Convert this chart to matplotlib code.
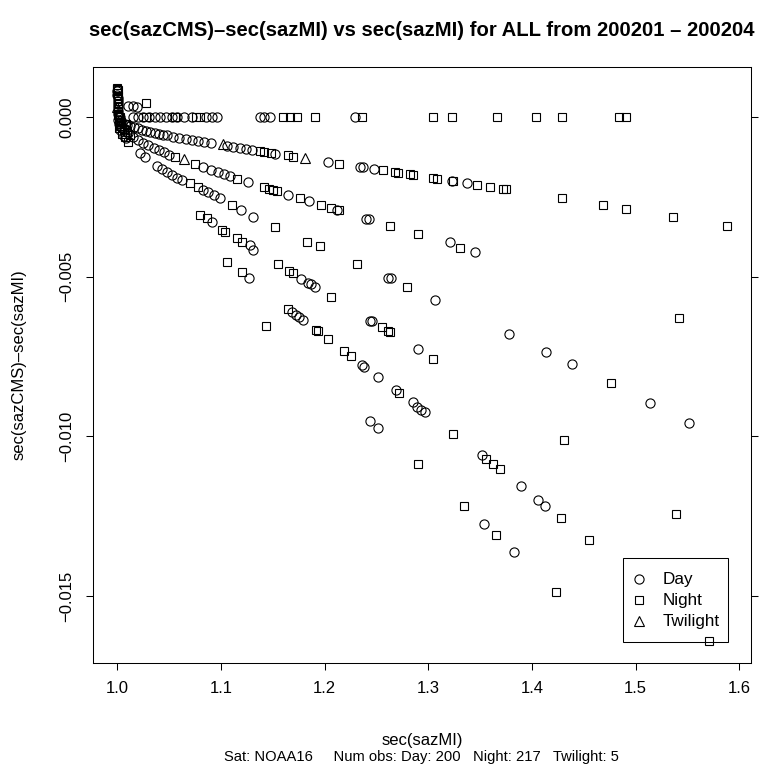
import matplotlib
matplotlib.use("Agg")
import matplotlib.pyplot as plt
from matplotlib.lines import Line2D
from matplotlib.patches import Rectangle

plt.rcParams['font.family'] = ['Liberation Sans', 'DejaVu Sans']

# ---------------- data ----------------
day_x = [
    1.0000, 1.0002, 1.0003, 1.0004, 1.0005, 1.0006, 1.0008, 1.0010, 1.0012, 1.0020, 1.0030,
    1.010, 1.015, 1.019,
    1.015, 1.020, 1.025, 1.031, 1.036, 1.041, 1.047, 1.053, 1.058, 1.064, 1.072, 1.086, 1.091, 1.096,
    1.138, 1.142, 1.147, 1.229,
    1.001, 1.003, 1.005, 1.007, 1.009,
    1.012, 1.016, 1.020, 1.024, 1.028, 1.032, 1.036, 1.040, 1.044, 1.048, 1.054, 1.060, 1.066, 1.072,
    1.078, 1.084, 1.090, 1.106, 1.112, 1.118, 1.124, 1.130, 1.152, 1.203, 1.234, 1.237, 1.248, 1.323, 1.337,
    1.002, 1.004, 1.005, 1.007, 1.010, 1.015, 1.020, 1.025, 1.030, 1.035, 1.040, 1.045, 1.050,
    1.083, 1.090, 1.097, 1.103, 1.109, 1.126, 1.165, 1.185, 1.212, 1.240, 1.243, 1.321, 1.345,
    1.003, 1.006, 1.008,
    1.022, 1.027, 1.038, 1.043, 1.048, 1.053, 1.058, 1.062, 1.083, 1.088, 1.093, 1.099, 1.119, 1.131,
    1.2607, 1.2637, 1.3064, 1.378, 1.4134, 1.4388, 1.5144, 1.5516,
    1.091, 1.128, 1.1311, 1.1771, 1.184, 1.187, 1.191, 1.2437, 1.2457, 1.2897,
    1.1273, 1.169, 1.172, 1.175, 1.179, 1.2362, 1.2382, 1.2517, 1.2688, 1.2849, 1.2887, 1.293, 1.297,
    1.3514, 1.3893, 1.406, 1.4131,
    1.2437, 1.2517, 1.3536, 1.3825,
]
day_y = [
    0.00080, 0.00070, 0.00060, 0.00050, 0.00040, 0.00030, 0.00020, 0.00010, 0.0, 0.0, 0.0,
    0.00034, 0.00035, 0.00032,
    0.0, 0.0, 0.0, 0.0, 0.0, 0.0, 0.0, 0.0, 0.0, 0.0, 0.0, 0.0, 0.0, 0.0,
    0.0, 0.0, 0.0, 0.0,
    -0.00008, -0.00014, -0.00018, -0.00021, -0.00024,
    -0.000275, -0.00032, -0.00036, -0.000395, -0.00043, -0.00046, -0.00049, -0.00052, -0.00055, -0.000575,
    -0.000614, -0.00065, -0.00069, -0.000725, -0.00076, -0.00079, -0.00083, -0.00091, -0.00095, -0.00098,
    -0.00101, -0.00104, -0.00116, -0.00141, -0.00156, -0.00158, -0.00163, -0.00200, -0.00208,
    -0.00022, -0.00031, -0.00035, -0.00042, -0.00050, -0.00062, -0.00072, -0.00081, -0.00089, -0.00097,
    -0.00104, -0.00111, -0.00118,
    -0.00158, -0.00165, -0.00173, -0.00180, -0.00186, -0.00204, -0.00244, -0.00264, -0.00290, -0.00318,
    -0.00320, -0.00390, -0.00423,
    -0.00041, -0.00058, -0.00067,
    -0.00113, -0.00124, -0.00152, -0.00162, -0.00173, -0.00182, -0.00190, -0.00198, -0.00229, -0.00236,
    -0.00245, -0.00254, -0.00290, -0.00312,
    -0.00503, -0.00505, -0.00573, -0.00679, -0.00735, -0.00774, -0.00896, -0.00957,
    -0.00328, -0.00401, -0.00416, -0.00507, -0.00519, -0.00524, -0.00532, -0.00638, -0.00640, -0.00727,
    -0.00505, -0.00610, -0.00620, -0.00626, -0.00636, -0.00778, -0.00782, -0.00813, -0.00855, -0.00894,
    -0.00907, -0.00917, -0.00925, -0.01058, -0.01157, -0.01199, -0.01218,
    -0.00951, -0.00975, -0.01275, -0.01363,
]

night_x = [
    1.0000, 1.0000, 1.0003, 1.0002, 1.0005, 1.0007, 1.0003, 1.0008, 1.0004, 1.0010, 1.0006, 1.0015, 1.0025,
    1.0277,
    1.028, 1.056, 1.076, 1.080, 1.160, 1.167, 1.173, 1.191, 1.236, 1.305, 1.323, 1.366, 1.404, 1.429,
    1.484, 1.491,
    1.002, 1.004, 1.008,
    1.138, 1.142, 1.148, 1.165, 1.170, 1.214, 1.256, 1.268, 1.271, 1.282, 1.285, 1.305, 1.308, 1.324,
    1.347, 1.360, 1.372, 1.375, 1.429, 1.469, 1.491, 1.536, 1.588,
    1.003, 1.006, 1.009, 1.012,
    1.056, 1.075, 1.1155, 1.142, 1.146, 1.150, 1.154, 1.176, 1.1965, 1.206, 1.214, 1.263, 1.290, 1.3305,
    1.5419,
    1.002, 1.005, 1.007,
    1.0107, 1.070, 1.078, 1.111, 1.152, 1.1826, 1.196, 1.2309, 1.2791, 1.4761,
    1.080, 1.0862, 1.1007, 1.1039, 1.1151, 1.120, 1.1547, 1.1656, 1.1695, 1.2058, 1.255, 1.2613, 1.2633,
    1.3047, 1.4308, 1.5388,
    1.1055, 1.120, 1.1649, 1.1913, 1.1933, 1.2029, 1.2189, 1.2254, 1.2716, 1.324, 1.3562, 1.3626, 1.369,
    1.4285, 1.4549, 1.5709,
    1.1431, 1.2903, 1.3346, 1.3649, 1.4237,
]
night_y = [
    0.00092, 0.00087, 0.00083, 0.00076, 0.00066, 0.00055, 0.00045, 0.00035, 0.00025, 0.00015, 0.00005,
    0.0, 0.0,
    0.00044,
    0.0, 0.0, 0.0, 0.0, 0.0, 0.0, 0.0, 0.0, 0.0, 0.0, 0.0, 0.0, 0.0, 0.0, 0.0, 0.0,
    -0.00011, -0.00016, -0.00022,
    -0.00108, -0.00110, -0.00113, -0.00120, -0.00124, -0.00146, -0.00167, -0.00173, -0.00174, -0.00180,
    -0.00181, -0.00191, -0.00193, -0.00201, -0.00213, -0.00219, -0.00226, -0.00227, -0.00255, -0.00276,
    -0.00288, -0.00313, -0.00341,
    -0.00027, -0.00039, -0.00048, -0.00055,
    -0.00125, -0.00147, -0.00193, -0.00220, -0.00224, -0.00229, -0.00232, -0.00255, -0.00275, -0.00285,
    -0.00291, -0.00341, -0.00366, -0.00409, -0.00630,
    -0.00033, -0.00053, -0.00063,
    -0.00078, -0.00208, -0.00219, -0.00276, -0.00343, -0.00390, -0.00403, -0.00460, -0.00531, -0.00834,
    -0.00307, -0.00317, -0.00354, -0.00359, -0.00380, -0.00390, -0.00460, -0.00483, -0.00490, -0.00563,
    -0.00658, -0.00670, -0.00673, -0.00758, -0.01013, -0.01244,
    -0.00453, -0.00487, -0.00602, -0.00667, -0.00670, -0.00695, -0.00733, -0.00748, -0.00863, -0.00992,
    -0.01071, -0.01086, -0.01103, -0.01256, -0.01324, -0.01640,
    -0.00653, -0.01086, -0.01218, -0.01309, -0.01488,
]

twilight_x = [1.000, 1.004, 1.064, 1.102, 1.181]
twilight_y = [0.00030, -0.00020, -0.00131, -0.00084, -0.00130]

x_ticks = [1.0, 1.1, 1.2, 1.3, 1.4, 1.5, 1.6]
x_tick_labels = ["1.0", "1.1", "1.2", "1.3", "1.4", "1.5", "1.6"]
y_ticks = [0.0, -0.005, -0.010, -0.015]
y_tick_labels = ["0.000", "\u22120.005", "\u22120.010", "\u22120.015"]

title = "sec(sazCMS)\u2013sec(sazMI) vs sec(sazMI) for ALL from 200201 \u2013 200204"
x_label = "sec(sazMI)"
y_label = "sec(sazCMS)\u2013sec(sazMI)"
subtitle = "Sat: NOAA16     Num obs: Day: 200   Night: 217   Twilight: 5"
legend_labels = ["Day", "Night", "Twilight"]

# ---------------- figure ----------------
W, H = 761, 765
fig = plt.figure(figsize=(W / 100, H / 100), dpi=100)
L, R, T, B = 92.7, 751.0, 67.3, 662.7
ax = fig.add_axes([L / W, 1 - B / H, (R - L) / W, (B - T) / H])

mk = dict(linestyle='none', mfc='none', mec='black', mew=0.8)
styles = [dict(marker='o', ms=6.6), dict(marker='s', ms=6.0), dict(marker='^', ms=7.0)]
ax.plot(day_x, day_y, **styles[0], **mk)
ax.plot(night_x, night_y, **styles[1], **mk)
ax.plot(twilight_x, twilight_y, **styles[2], **mk)

ax.set_xlim(0.97628, 1.6114)
ax.set_ylim(-0.01709, 0.001556)

FS = 12
ax.set_xticks(x_ticks)
ax.set_xticklabels(x_tick_labels, fontsize=FS)
ax.set_yticks(y_ticks)
ax.set_yticklabels(y_tick_labels, fontsize=FS, rotation=90, va='center')
ax.tick_params(axis='x', direction='out', length=5, width=0.75, pad=8)
ax.tick_params(axis='y', direction='out', length=5, width=0.75, pad=8,
               right=True, labelright=False)
for s in ax.spines.values():
    s.set_linewidth(0.75)
    s.set_color('black')

def fx(px):
    return px / W

def fy(py):
    return 1 - py / H

cx = fx((L + R) / 2)
fig.text(cx, fy(30), title, ha='center', va='center', fontsize=14.6, fontweight='bold')
fig.text(cx, fy(740), x_label, ha='center', va='center', fontsize=FS)
fig.text(cx, fy(757), subtitle, ha='center', va='center', fontsize=10.6)
fig.text(fx(19), fy((T + B) / 2), y_label, ha='center', va='center', rotation=90, fontsize=FS)

# legend drawn R-style (box, symbols, labels)
fig.add_artist(Rectangle((fx(623.3), fy(642.3)), 105 / W, 84 / H, transform=fig.transFigure,
                         fill=False, edgecolor='black', linewidth=0.75))
for i, (lab, st) in enumerate(zip(legend_labels, styles)):
    yy = fy(579.3 + 21 * i)
    fig.add_artist(Line2D([fx(639.3)], [yy], transform=fig.transFigure, **st, **mk))
    fig.text(fx(663), yy, lab, ha='left', va='center', fontsize=12.3)

fig.savefig("out.png", dpi=100)
